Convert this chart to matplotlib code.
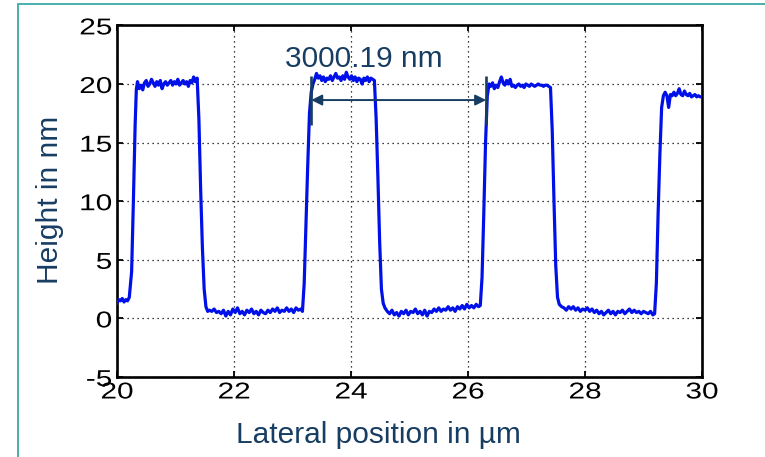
import matplotlib
matplotlib.use("Agg")
import matplotlib.pyplot as plt
from matplotlib.patches import Rectangle
from matplotlib.patheffects import AbstractPathEffect
from matplotlib.transforms import Affine2D

# ---------------- data ----------------
x_um = [
    # low 0
    20.00, 20.03, 20.06, 20.09, 20.12, 20.15, 20.18, 20.21,
    # rise 1
    20.25, 20.28, 20.31, 20.33, 20.35,
    # top 1
    20.38, 20.41, 20.44, 20.47, 20.50, 20.53, 20.56, 20.59, 20.62, 20.65,
    20.68, 20.71, 20.74, 20.77, 20.80, 20.83, 20.86, 20.89, 20.92, 20.95,
    20.98, 21.01, 21.04, 21.07, 21.10, 21.13, 21.16, 21.19, 21.22, 21.25,
    21.28, 21.31, 21.34, 21.37,
    # fall 1
    21.40, 21.43, 21.46, 21.49, 21.52, 21.55,
    # low 1
    21.58, 21.62, 21.66, 21.70, 21.74, 21.78, 21.82, 21.86, 21.90, 21.94,
    21.98, 22.02, 22.06, 22.10, 22.14, 22.18, 22.22, 22.26, 22.30, 22.34,
    22.38, 22.42, 22.46, 22.50, 22.54, 22.58, 22.62, 22.66, 22.70, 22.74,
    22.78, 22.82, 22.86, 22.90, 22.94, 22.98, 23.02, 23.06, 23.10, 23.14,
    23.17,
    # rise 2
    23.20, 23.23, 23.26, 23.29, 23.32, 23.35,
    # top 2
    23.38, 23.41, 23.44, 23.47, 23.50, 23.53, 23.56, 23.59, 23.62, 23.65,
    23.68, 23.71, 23.74, 23.77, 23.80, 23.83, 23.86, 23.89, 23.92, 23.95,
    23.98, 24.01, 24.04, 24.07, 24.10, 24.13, 24.16, 24.19, 24.22, 24.25,
    24.28, 24.31, 24.34, 24.37, 24.40,
    # fall 2
    24.43, 24.46, 24.49, 24.52, 24.55, 24.58, 24.62,
    # low 2
    24.66, 24.70, 24.74, 24.78, 24.82, 24.86, 24.90, 24.94, 24.98, 25.02,
    25.06, 25.10, 25.14, 25.18, 25.22, 25.26, 25.30, 25.34, 25.38, 25.42,
    25.46, 25.50, 25.54, 25.58, 25.62, 25.66, 25.70, 25.74, 25.78, 25.82,
    25.86, 25.90, 25.94, 25.98, 26.02, 26.06, 26.10, 26.14, 26.18, 26.21,
    # rise 3
    26.24, 26.27, 26.30, 26.33, 26.36,
    # top 3
    26.39, 26.42, 26.45, 26.48, 26.51, 26.54, 26.57, 26.60, 26.63, 26.66,
    26.69, 26.72, 26.75, 26.78, 26.81, 26.84, 26.87, 26.90, 26.93, 26.96,
    26.99, 27.02, 27.05, 27.08, 27.11, 27.14, 27.17, 27.20, 27.23, 27.26,
    27.29, 27.32, 27.35, 27.38, 27.41,
    # fall 3
    27.44, 27.47, 27.50, 27.53, 27.56, 27.60,
    # low 3
    27.64, 27.68, 27.72, 27.76, 27.80, 27.84, 27.88, 27.92, 27.96, 28.00,
    28.04, 28.08, 28.12, 28.16, 28.20, 28.24, 28.28, 28.32, 28.36, 28.40,
    28.44, 28.48, 28.52, 28.56, 28.60, 28.64, 28.68, 28.72, 28.76, 28.80,
    28.84, 28.88, 28.92, 28.96, 29.00, 29.04, 29.08, 29.12, 29.16, 29.19,
    # rise 4
    29.22, 29.25, 29.28, 29.31, 29.34,
    # top 4
    29.37, 29.40, 29.43, 29.46, 29.49, 29.52, 29.55, 29.58, 29.61, 29.64,
    29.67, 29.70, 29.73, 29.76, 29.79, 29.82, 29.85, 29.88, 29.91, 29.94,
    29.97, 30.00,
]

height_nm = [
    # low 0
    1.3, 1.6, 1.5, 1.7, 1.4, 1.6, 1.5, 1.8,
    # rise 1
    4.0, 10.0, 16.5, 19.5, 20.2,
    # top 1
    19.6, 19.9, 19.5, 20.1, 20.3, 19.8, 20.0, 20.4, 20.1, 19.8,
    20.2, 19.9, 20.3, 19.6, 20.0, 20.2, 19.9, 20.1, 20.3, 19.9,
    20.2, 20.0, 20.4, 19.9, 20.1, 20.3, 20.0, 20.2, 19.8, 20.3,
    20.1, 20.6, 20.2, 20.5,
    # fall 1
    17.0, 11.0, 6.0, 2.5, 1.0, 0.6,
    # low 1
    0.7, 0.6, 0.8, 0.5, 0.6, 0.4, 0.7, 0.2, 0.6, 0.3,
    0.8, 0.5, 0.9, 0.4, 0.6, 0.3, 0.7, 0.5, 0.8, 0.4,
    0.6, 0.3, 0.7, 0.5, 0.4, 0.7, 0.5, 0.8, 0.6, 0.9,
    0.5, 0.7, 0.6, 0.9, 0.6, 0.8, 0.5, 0.9, 0.7, 0.8,
    0.6,
    # rise 2
    3.0, 8.0, 13.0, 17.5, 19.3, 20.0,
    # top 2
    20.4, 20.9, 20.5, 20.7, 20.3, 20.6, 20.2, 20.5, 20.4, 20.7,
    20.3, 20.6, 20.9, 20.5, 20.6, 20.3, 20.7, 20.4, 21.0, 20.6,
    20.4, 20.7, 20.3, 20.6, 20.2, 20.5, 20.4, 20.0, 20.5, 20.3,
    20.6, 20.2, 20.5, 20.4, 20.3,
    # fall 2
    17.0, 12.0, 6.5, 2.5, 1.3, 0.9, 0.6,
    # low 2
    0.4, 0.7, 0.3, 0.5, 0.2, 0.6, 0.4, 0.7, 0.3, 0.6,
    0.5, 0.8, 0.4, 0.6, 0.3, 0.7, 0.2, 0.6, 0.5, 0.8,
    0.6, 0.9, 0.6, 0.8, 0.7, 1.0, 0.7, 0.9, 0.6, 1.0,
    0.8, 1.1, 0.8, 1.2, 0.9, 1.1, 0.9, 1.2, 1.0, 1.1,
    # rise 3
    3.5, 9.0, 15.0, 19.0, 20.0,
    # top 3
    19.8, 20.1, 19.6, 19.9, 19.7, 20.2, 20.6, 20.1, 19.9, 20.3,
    20.0, 20.4, 19.8, 19.9, 19.7, 19.9, 20.0, 19.8, 19.9, 19.7,
    20.0, 19.9, 19.8, 20.0, 19.9, 19.8, 19.9, 20.0, 19.9, 19.9,
    19.8, 19.9, 19.9, 19.8, 19.7,
    # fall 3
    16.0, 10.0, 4.5, 1.8, 1.2, 1.0,
    # low 3
    0.9, 0.7, 1.0, 0.8, 1.0, 0.7, 0.9, 0.6, 0.8, 0.7,
    0.9, 0.6, 0.8, 0.5, 0.7, 0.4, 0.6, 0.3, 0.5, 0.7,
    0.4, 0.6, 0.3, 0.6, 0.5, 0.7, 0.4, 0.6, 0.8, 0.5,
    0.7, 0.5, 0.6, 0.4, 0.6, 0.5, 0.4, 0.6, 0.3, 0.4,
    # rise 4
    3.0, 9.0, 14.0, 18.0, 19.0,
    # top 4
    19.3, 19.0, 18.0, 19.1, 19.0, 19.3, 19.0, 19.2, 19.6, 19.1,
    19.0, 19.4, 19.1, 19.0, 19.2, 18.9, 19.0, 19.1, 18.9, 19.0,
    18.9, 18.9,
]
assert len(x_um) == len(height_nm)

x_ticks = [20, 22, 24, 26, 28, 30]
y_ticks = [-5, 0, 5, 10, 15, 20, 25]

period_start_um = 23.32
period_end_um = 26.31
period_label = "3000.19 nm"
period_arrow_nm = 18.63
period_bar_top_nm = 20.7
period_bar_bottom_nm = 16.5

x_label = "Lateral position in µm"
y_label = "Height in nm"

# ---------------- styling ----------------
plt.rcParams['font.family'] = ['Liberation Sans', 'DejaVu Sans']
plt.rcParams['axes.unicode_minus'] = False

NAVY = '#173d63'
BLUE = '#0010e8'
TEAL = '#3aa9a6'


class HStretch(AbstractPathEffect):
    """Stretch glyphs horizontally around an anchor (left/center/right)."""
    def __init__(self, sx, anchor='center'):
        super().__init__()
        self.sx = sx
        self.anchor = anchor

    def draw_path(self, renderer, gc, tpath, affine, rgbFace=None):
        ext = tpath.get_extents()
        if self.anchor == 'right':
            cx = ext.x1
        elif self.anchor == 'left':
            cx = ext.x0
        else:
            cx = 0.5 * (ext.x0 + ext.x1)
        t = Affine2D().translate(-cx, 0).scale(self.sx, 1).translate(cx, 0)
        renderer.draw_path(gc, tpath, t + affine, rgbFace)


W, H = 765, 457
fig = plt.figure(figsize=(W / 100, H / 100), dpi=100)
fig.patch.set_facecolor('white')

# teal frame around the slide region
fig.patches.append(Rectangle((18 / W, -0.05), 1.2, 1 - 4 / H + 0.05,
                             transform=fig.transFigure, fill=False,
                             edgecolor=TEAL, linewidth=1.3))

ax = fig.add_axes([117 / W, (H - 377) / H, 585 / W, (377 - 25.4) / H])
ax.plot(x_um, height_nm, color=BLUE, linewidth=2.3, solid_joinstyle='round',
        zorder=3)

ax.set_xlim(20, 30)
ax.set_ylim(-5, 25)
ax.set_xticks(x_ticks)
ax.set_yticks(y_ticks)
ax.set_xticklabels([str(v) for v in x_ticks])
ax.set_yticklabels([str(v) for v in y_ticks])

ax.grid(True, color='black', linestyle=(0, (1, 3)), linewidth=0.9)
for sp in ax.spines.values():
    sp.set_linewidth(1.9)
    sp.set_color('black')
ax.tick_params(direction='in', length=4, width=1.3, top=True, right=True,
               colors='black', labelsize=16.5)
ax.tick_params(axis='x', pad=2.5)
ax.tick_params(axis='y', pad=3.6)
for lab in ax.get_xticklabels():
    lab.set_path_effects([HStretch(1.3, 'center')])
for lab in ax.get_yticklabels():
    lab.set_path_effects([HStretch(1.3, 'right')])

# period annotation
for xv in (period_start_um, period_end_um):
    ax.plot([xv, xv], [period_bar_bottom_nm, period_bar_top_nm], color=NAVY,
            linewidth=1.9, zorder=4, solid_capstyle='butt')
ax.annotate('', xy=(period_end_um, period_arrow_nm),
            xytext=(period_start_um, period_arrow_nm),
            arrowprops=dict(arrowstyle='<|-|>', mutation_scale=16,
                            color=NAVY, lw=1.4, shrinkA=0, shrinkB=0),
            zorder=4)
ax.text(24.22, 21.48, period_label, ha='center', va='baseline',
        fontsize=21.5, color=NAVY, zorder=5)

# axis labels (placed like text boxes on the slide)
fig.text(378 / W, 1 - 435 / H, x_label, ha='center', va='center',
         fontsize=21.5, color=NAVY)
fig.text(50 / W, 1 - 200 / H, y_label, ha='center', va='center',
         rotation=90, fontsize=21.5, color=NAVY)

fig.savefig('out.png', dpi=100, facecolor='white')
